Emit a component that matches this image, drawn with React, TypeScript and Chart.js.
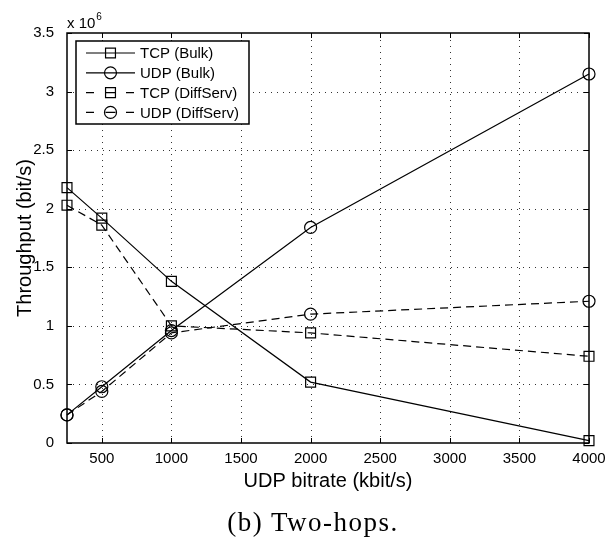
import React, { useEffect, useRef } from "react";
import { Chart, registerables } from "chart.js";

Chart.register(...registerables);

const xValues = [250, 500, 1000, 2000, 4000];
const tcpBulk = [2.18e6, 1.92e6, 1.38e6, 0.52e6, 0.02e6];
const udpBulk = [0.24e6, 0.48e6, 0.96e6, 1.84e6, 3.15e6];
const tcpDiff = [2.03e6, 1.86e6, 1.0e6, 0.94e6, 0.74e6];
const udpDiff = [0.24e6, 0.44e6, 0.94e6, 1.1e6, 1.21e6];
const xTicks = [500, 1000, 1500, 2000, 2500, 3000, 3500, 4000];
const yTicks = [0, 0.5e6, 1e6, 1.5e6, 2e6, 2.5e6, 3e6, 3.5e6];
const seriesLabels = ["TCP (Bulk)", "UDP (Bulk)", "TCP (DiffServ)", "UDP (DiffServ)"];

const SANS = "'Liberation Sans', Arial, sans-serif";
const DASH = [8, 5];

function pts(ys: number[]) {
  return xValues.map((x, i) => ({ x, y: ys[i] }));
}

function drawMarker(ctx: CanvasRenderingContext2D, style: string, x: number, y: number) {
  ctx.beginPath();
  ctx.setLineDash([]);
  if (style === "rect") {
    const s = 7 * Math.SQRT1_2;
    ctx.rect(x - s, y - s, 2 * s, 2 * s);
  } else {
    ctx.arc(x, y, 6, 0, Math.PI * 2);
  }
  ctx.stroke();
}

const decor = {
  id: "decor",
  beforeDatasetsDraw(chart: any) {
    const { ctx, chartArea: a, scales } = chart;
    ctx.save();
    ctx.strokeStyle = "#333";
    ctx.lineWidth = 1;
    ctx.setLineDash([1, 5]);
    xTicks.forEach((v) => {
      const px = Math.round(scales.x.getPixelForValue(v)) + 0.5;
      if (px > a.right - 2) return;
      ctx.beginPath();
      ctx.moveTo(px, a.bottom);
      ctx.lineTo(px, a.top);
      ctx.stroke();
    });
    yTicks.forEach((v) => {
      const py = Math.round(scales.y.getPixelForValue(v)) + 0.5;
      if (py > a.bottom - 2 || py < a.top + 2) return;
      ctx.beginPath();
      ctx.moveTo(a.left, py);
      ctx.lineTo(a.right, py);
      ctx.stroke();
    });
    ctx.restore();
  },
  afterDatasetsDraw(chart: any) {
    const { ctx, chartArea: a, scales } = chart;
    ctx.save();
    ctx.setLineDash([]);
    ctx.strokeStyle = "#000";
    ctx.lineWidth = 1.5;
    ctx.strokeRect(a.left, a.top, a.right - a.left, a.bottom - a.top);
    ctx.lineWidth = 1;
    const tl = 5;
    xTicks.forEach((v) => {
      const px = Math.round(scales.x.getPixelForValue(v)) + 0.5;
      ctx.beginPath();
      ctx.moveTo(px, a.bottom);
      ctx.lineTo(px, a.bottom - tl);
      ctx.moveTo(px, a.top);
      ctx.lineTo(px, a.top + tl);
      ctx.stroke();
    });
    yTicks.forEach((v) => {
      const py = Math.round(scales.y.getPixelForValue(v)) + 0.5;
      ctx.beginPath();
      ctx.moveTo(a.left, py);
      ctx.lineTo(a.left + tl, py);
      ctx.moveTo(a.right, py);
      ctx.lineTo(a.right - tl, py);
      ctx.stroke();
    });

    // exponent label
    ctx.fillStyle = "#000";
    ctx.font = `15px ${SANS}`;
    ctx.textBaseline = "alphabetic";
    ctx.textAlign = "left";
    ctx.fillText("x 10", a.left, a.top - 5);
    const w = ctx.measureText("x 10").width;
    ctx.font = `10px ${SANS}`;
    ctx.fillText("6", a.left + w + 1, a.top - 13);

    // legend
    const bx = a.left + 9;
    const by = a.top + 8;
    const bw = 173;
    const bh = 83;
    ctx.fillStyle = "#fff";
    ctx.fillRect(bx, by, bw, bh);
    ctx.lineWidth = 1.5;
    ctx.strokeStyle = "#000";
    ctx.strokeRect(bx, by, bw, bh);
    ctx.lineWidth = 1.2;
    chart.data.datasets.forEach((ds: any, i: number) => {
      const cy = by + 12 + i * 19.8;
      const x0 = bx + 10;
      const x1 = bx + 59;
      const cx = (x0 + x1) / 2;
      ctx.setLineDash([]);
      ctx.beginPath();
      if (ds.borderDash && ds.borderDash.length) {
        ctx.moveTo(x0, cy);
        ctx.lineTo(x0 + 8, cy);
        ctx.moveTo(cx - 5, cy);
        ctx.lineTo(cx + 5, cy);
        ctx.moveTo(x1 - 9, cy);
        ctx.lineTo(x1 - 1, cy);
      } else {
        ctx.moveTo(x0, cy);
        ctx.lineTo(x1, cy);
      }
      ctx.stroke();
      drawMarker(ctx, ds.pointStyle, cx, cy);
      ctx.fillStyle = "#000";
      ctx.font = `15px ${SANS}`;
      ctx.textBaseline = "middle";
      ctx.fillText(ds.label, x1 + 5, cy + 1);
    });
    ctx.restore();
  },
};

export default function App() {
  const ref = useRef<HTMLCanvasElement>(null);
  useEffect(() => {
    const common = {
      borderColor: "#000",
      borderWidth: 1.2,
      pointBorderColor: "#000",
      pointBackgroundColor: "rgba(0,0,0,0)",
      pointBorderWidth: 1.2,
      fill: false,
      tension: 0,
      clip: false as any,
    };
    const chart = new Chart(ref.current!, {
      type: "line",
      data: {
        datasets: [
          { ...common, label: seriesLabels[0], data: pts(tcpBulk), pointStyle: "rect", pointRadius: 7 },
          { ...common, label: seriesLabels[1], data: pts(udpBulk), pointStyle: "circle", pointRadius: 6 },
          { ...common, label: seriesLabels[2], data: pts(tcpDiff), pointStyle: "rect", pointRadius: 7, borderDash: DASH },
          { ...common, label: seriesLabels[3], data: pts(udpDiff), pointStyle: "circle", pointRadius: 6, borderDash: DASH },
        ] as any,
      },
      options: {
        animation: false,
        responsive: false,
        layout: { padding: { top: 33, right: 24, left: 0, bottom: 0 } },
        plugins: { legend: { display: false }, tooltip: { enabled: false } },
        scales: {
          x: {
            type: "linear",
            min: 250,
            max: 4000,
            grid: { display: false },
            border: { display: false },
            afterBuildTicks: (s: any) => {
              s.ticks = xTicks.map((v) => ({ value: v }));
            },
            afterFit: (s: any) => {
              s.height = 95;
            },
            ticks: {
              autoSkip: false,
              maxRotation: 0,
              padding: -1,
              color: "#000",
              font: { family: SANS, size: 15 },
              callback: (v: any) => String(v),
            },
            title: {
              display: true,
              text: "UDP bitrate (kbit/s)",
              color: "#000",
              font: { family: SANS, size: 20 },
              padding: { top: 0, bottom: 45 },
            },
          },
          y: {
            min: 0,
            max: 3.5e6,
            grid: { display: false },
            border: { display: false },
            afterBuildTicks: (s: any) => {
              s.ticks = yTicks.map((v) => ({ value: v }));
            },
            afterFit: (s: any) => {
              s.width = 67;
            },
            ticks: {
              autoSkip: false,
              padding: 5,
              color: "#000",
              font: { family: SANS, size: 15 },
              callback: (v: any) => String(Number(v) / 1e6),
            },
            title: {
              display: true,
              text: "Throughput (bit/s)",
              color: "#000",
              font: { family: SANS, size: 20 },
              padding: { top: 13, bottom: 0 },
            },
          },
        },
      } as any,
      plugins: [decor],
    });
    return () => chart.destroy();
  }, []);
  return (
    <div style={{ position: "absolute", left: 0, top: 0, width: 613, height: 538, background: "#fff" }}>
      <canvas ref={ref} width={613} height={538} style={{ position: "absolute", left: 0, top: 0 }} />
      <div
        style={{
          position: "absolute",
          left: 13,
          top: 507,
          width: 600,
          textAlign: "center",
          fontFamily: "'Liberation Serif', 'Times New Roman', serif",
          fontSize: 27,
          lineHeight: "30px",
          letterSpacing: 1.5,
          color: "#000",
        }}
      >
        (b) Two-hops.
      </div>
    </div>
  );
}
